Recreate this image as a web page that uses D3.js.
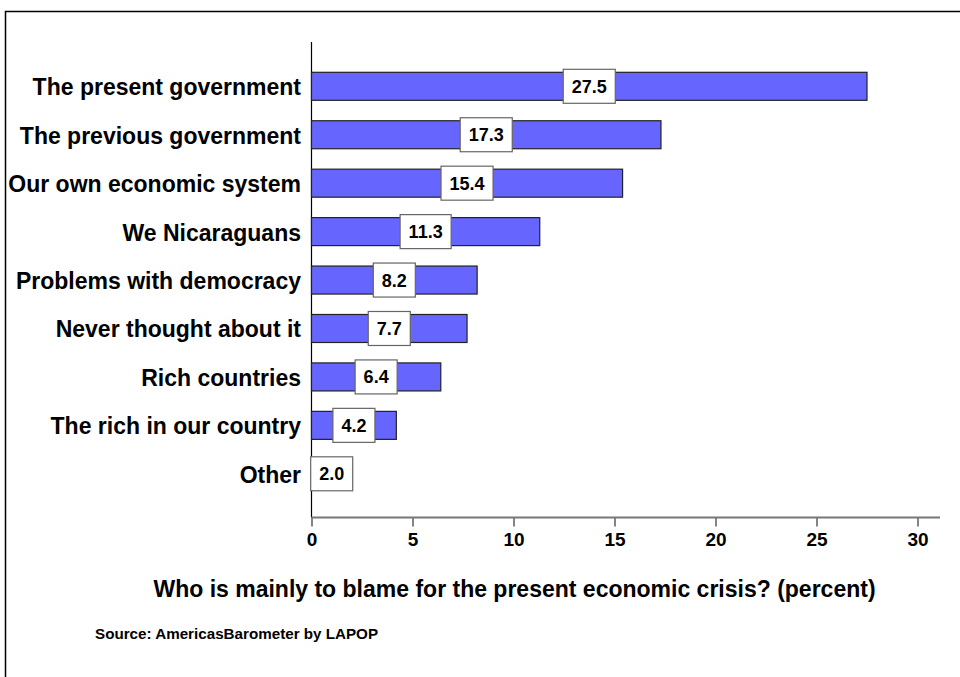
<!DOCTYPE html>
<html>
<head>
<meta charset="utf-8">
<script src="https://cdn.jsdelivr.net/npm/d3@7"></script>
<style>
  html, body { margin: 0; padding: 0; background: #fff; }
  svg { display: block; }
  text { font-family: Arial, "Liberation Sans", sans-serif; font-weight: bold; fill: #000; }
</style>
</head>
<body>
<svg id="chart" width="960" height="677"></svg>
<script>
const categories = [
  "The present government",
  "The previous government",
  "Our own economic system",
  "We Nicaraguans",
  "Problems with democracy",
  "Never thought about it",
  "Rich countries",
  "The rich in our country",
  "Other"
];
const values = [27.5, 17.3, 15.4, 11.3, 8.2, 7.7, 6.4, 4.2, 2.0];
const tickValues = [0, 5, 10, 15, 20, 25, 30];
const titleText = "Who is mainly to blame for the present economic crisis? (percent)";
const sourceText = "Source: AmericasBarometer by LAPOP";

const svg = d3.select("#chart");
const W = 960, H = 677;

// frame
svg.append("rect")
  .attr("x", 5.5).attr("y", 11.5)
  .attr("width", W + 10).attr("height", H + 10)
  .attr("fill", "none").attr("stroke", "#000").attr("stroke-width", 1.5);

const x0 = 311.5;
const x = d3.scaleLinear().domain([0, 30]).range([x0, x0 + 606]);
const y = d3.scalePoint().domain(categories).range([86.3, 473.8]);
const barH = 28;
const axisY = 517.5;

// y axis line
svg.append("line")
  .attr("x1", x0).attr("x2", x0)
  .attr("y1", 42).attr("y2", axisY)
  .attr("stroke", "#000").attr("stroke-width", 1.2);

// x axis
const xAxis = d3.axisBottom(x).tickValues(tickValues).tickSize(9).tickPadding(6).tickFormat(d3.format("d"));
const gx = svg.append("g").attr("transform", `translate(0,${axisY})`).call(xAxis);
gx.select(".domain").remove();
gx.append("line").attr("x1", x0).attr("x2", 940).attr("y1", 0).attr("y2", 0)
  .attr("stroke", "#777").attr("stroke-width", 2);
gx.selectAll(".tick line").attr("stroke", "#333").attr("stroke-width", 1.2);
gx.selectAll(".tick text")
  .style("font-family", "Arial, 'Liberation Sans', sans-serif")
  .style("font-weight", "bold").style("font-size", "19px").attr("fill", "#000");

// bars
const data = categories.map((c, i) => ({ c, v: values[i] }));
svg.append("g").selectAll("rect").data(data).join("rect")
  .attr("x", x0)
  .attr("y", d => y(d.c) - barH / 2)
  .attr("width", d => x(d.v) - x0)
  .attr("height", barH)
  .attr("fill", "#6666FF")
  .attr("stroke", "#222").attr("stroke-width", 1.2);

// category labels
svg.append("g").selectAll("text").data(data).join("text")
  .attr("x", 301)
  .attr("y", d => y(d.c) + 9)
  .attr("text-anchor", "end")
  .style("font-size", "23px")
  .text(d => d.c);

// value label boxes
const lg = svg.append("g").selectAll("g").data(data).join("g")
  .attr("transform", d => `translate(${x(d.v / 2)},${y(d.c)})`);
lg.append("text")
  .attr("text-anchor", "middle")
  .attr("y", 6.5)
  .style("font-size", "18px")
  .text(d => d.v.toFixed(1));
lg.each(function() {
  const g = d3.select(this);
  const t = g.select("text");
  const w = t.node().getComputedTextLength();
  g.insert("rect", "text")
    .attr("x", -w / 2 - 8.5).attr("y", -17)
    .attr("width", w + 17).attr("height", 34)
    .attr("fill", "#fff").attr("stroke", "#666").attr("stroke-width", 1.2);
});

// title
svg.append("text")
  .attr("x", 514.5).attr("y", 597)
  .attr("text-anchor", "middle")
  .style("font-size", "23px")
  .text(titleText);

// source
svg.append("text")
  .attr("x", 95).attr("y", 639)
  .style("font-size", "15.2px")
  .text(sourceText);
</script>
</body>
</html>
